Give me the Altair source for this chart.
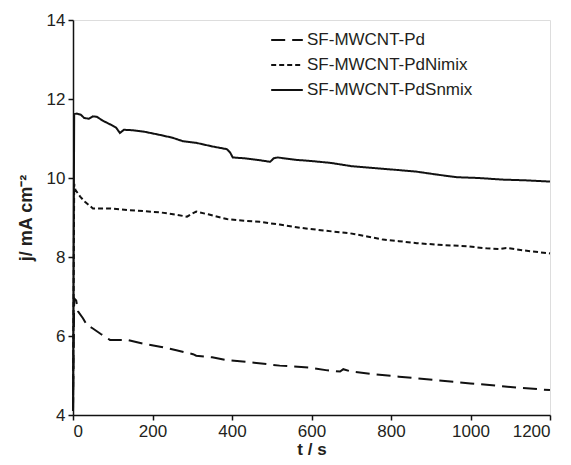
import altair as alt
import pandas as pd

series_names = ["SF-MWCNT-Pd", "SF-MWCNT-PdNimix", "SF-MWCNT-PdSnmix"]

t_pd = [0, 3, 8, 13, 25, 35, 50, 70, 93, 136, 180, 219, 260, 302, 310, 350, 387, 450, 520,
        596, 640, 672, 680, 700, 760, 820, 915, 1000, 1100, 1200]
j_pd = [4.1, 6.95, 6.9, 6.62, 6.45, 6.28, 6.19, 6.05, 5.90, 5.90, 5.80, 5.73, 5.64, 5.54, 5.50,
        5.46, 5.39, 5.33, 5.25, 5.20, 5.13, 5.10, 5.16, 5.10, 5.03, 4.97, 4.88, 4.80, 4.71, 4.63]

t_ni = [0, 3, 6, 18, 30, 50, 93, 136, 180, 219, 260, 287, 300, 310, 340, 387, 430, 470, 520,
        571, 630, 697, 740, 780, 820, 865, 920, 991, 1040, 1074, 1090, 1130, 1200]
j_ni = [4.1, 9.85, 9.7, 9.53, 9.4, 9.23, 9.23, 9.19, 9.16, 9.13, 9.07, 9.02, 9.10, 9.15, 9.08,
        8.96, 8.92, 8.89, 8.82, 8.74, 8.67, 8.60, 8.52, 8.44, 8.40, 8.35, 8.31, 8.27, 8.22,
        8.20, 8.23, 8.17, 8.09]

t_sn = [0, 3, 10, 20, 28, 40, 50, 60, 75, 95, 108, 118, 128, 150, 180, 219, 250, 277, 310,
        350, 387, 395, 402, 430, 470, 496, 505, 515, 560, 600, 650, 700, 760, 820, 865, 920,
        966, 1020, 1080, 1140, 1200]
j_sn = [4.1, 11.62, 11.63, 11.6, 11.52, 11.5, 11.56, 11.55, 11.45, 11.35, 11.28, 11.14, 11.22,
        11.21, 11.17, 11.09, 11.02, 10.93, 10.89, 10.80, 10.73, 10.65, 10.52, 10.50, 10.45,
        10.41, 10.50, 10.52, 10.46, 10.43, 10.38, 10.30, 10.25, 10.20, 10.16, 10.08, 10.02,
        10.00, 9.96, 9.94, 9.91]

rows = []
for name, ts, js in zip(series_names, [t_pd, t_ni, t_sn], [j_pd, j_ni, j_sn]):
    for i, (t, j) in enumerate(zip(ts, js)):
        rows.append({"t": t, "j": j, "series": name, "order": i})
df = pd.DataFrame(rows)

txt = "#231f20"
font = "Liberation Sans"

common_axis = dict(grid=False, domainColor="#111111", domainWidth=1.5, tickColor="#111111",
                   tickWidth=1.5, tickSize=5, labelFontSize=17, labelFont=font,
                   titleFont=font, labelColor=txt, titleColor=txt, labelPadding=3,
                   titleFontWeight="bold", format="d")

chart = alt.Chart(df).mark_line(strokeWidth=2, color="#111111").encode(
    x=alt.X("t:Q", scale=alt.Scale(domain=[0, 1200], nice=False),
            axis=alt.Axis(values=[0, 200, 400, 600, 800, 1000, 1200], title="t / s",
                          titleFontSize=17, titlePadding=2, **common_axis)),
    y=alt.Y("j:Q", scale=alt.Scale(domain=[4, 14], nice=False),
            axis=alt.Axis(values=[4, 6, 8, 10, 12, 14], title="j/ mA cm⁻²",
                          titleFontSize=18, titlePadding=11, **common_axis)),
    strokeDash=alt.StrokeDash("series:N",
                              scale=alt.Scale(domain=series_names,
                                              range=[[14, 7], [5, 3], [1, 0]]),
                              legend=alt.Legend(title=None, orient="none", legendX=197,
                                                legendY=3, symbolType="stroke",
                                                symbolSize=1000, symbolStrokeWidth=2,
                                                symbolStrokeColor="#111111",
                                                labelFontSize=17, labelFont=font,
                                                labelColor=txt, rowPadding=0,
                                                labelOffset=3, labelLimit=400)),
    detail="series:N",
    order="order:Q",
).properties(
    width=477, height=395,
    autosize=alt.AutoSizeParams(type="none"),
    padding={"left": 65, "top": 12, "right": 13, "bottom": 50},
).configure_view(stroke=None).configure(background="white")

chart.save("out.html", embed_options={"renderer": "svg", "actions": False})
